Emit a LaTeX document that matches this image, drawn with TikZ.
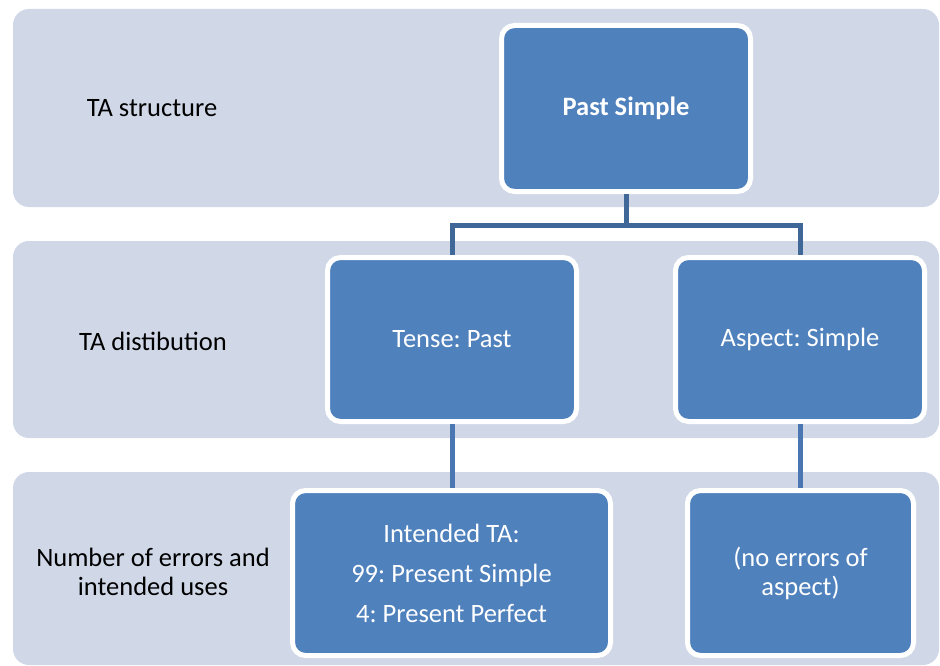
\documentclass[tikz,border=0pt]{standalone}
\usepackage{fontspec}
\setmainfont{Carlito}
\frenchspacing
\definecolor{bandfill}{HTML}{D0D8E8}
\definecolor{boxfill}{HTML}{4F81BD}
\definecolor{treeline}{HTML}{3F6797}
\definecolor{stemline}{HTML}{4A77B1}
\begin{document}
\frenchspacing
\begin{tikzpicture}[x=1pt,y=-1pt,
  band/.style={fill=bandfill,draw=none,rounded corners=16pt},
  lbl/.style={text=black,align=center,font=\fontsize{26.5}{29}\selectfont\frenchspacing,inner sep=0pt},
  bluebox/.style={fill=boxfill,draw=white,line width=5pt,rounded corners=13pt,
     text=white,align=center,font=\fontsize{26.5}{29}\selectfont\frenchspacing,
     inner sep=0pt,outer sep=2.5pt,anchor=center},
  tree/.style={draw=treeline,line width=5pt},
  stem/.style={draw=stemline,line width=5pt}]
\useasboundingbox (0,0) rectangle (940,666);
% bands
\path[band] (13,9) rectangle (939,207);
\path[band] (13,241) rectangle (939,438);
\path[band] (13,472) rectangle (939,665);
% row labels
\node[lbl] (l1) at (152,108) {TA structure};
\node[lbl] (l2) at (153,341) {TA distibution};
\node[lbl] (l3) at (153,572) {Number of errors and\\intended uses};
% boxes
\node[bluebox,minimum width=249pt,minimum height=166pt] (ps) at (626,108.5) {\bfseries Past Simple};
\node[bluebox,minimum width=249pt,minimum height=164pt] (tense) at (452,339.5) {Tense: Past};
\node[bluebox,minimum width=249pt,minimum height=164pt] (aspect) at (800,339.5) {Aspect: Simple};
\node[bluebox,minimum width=318pt,minimum height=165pt] (int) at (451.5,573)
  {Intended TA:\\[11pt]99: Present Simple\\[11pt]4: Present Perfect};
\node[bluebox,minimum width=226pt,minimum height=165pt] (noerr) at (800.5,573)
  {(no errors of\\aspect)};
% connectors
\coordinate (j) at (626,225);
\draw[tree] (ps.south) -- (j);
\draw[tree] (j) -| (tense.north);
\draw[tree] (j) -| (aspect.north);
\draw[stem] (tense.south) -- (tense.south |- int.north);
\draw[stem] (aspect.south) -- (aspect.south |- noerr.north);
\end{tikzpicture}
\end{document}
